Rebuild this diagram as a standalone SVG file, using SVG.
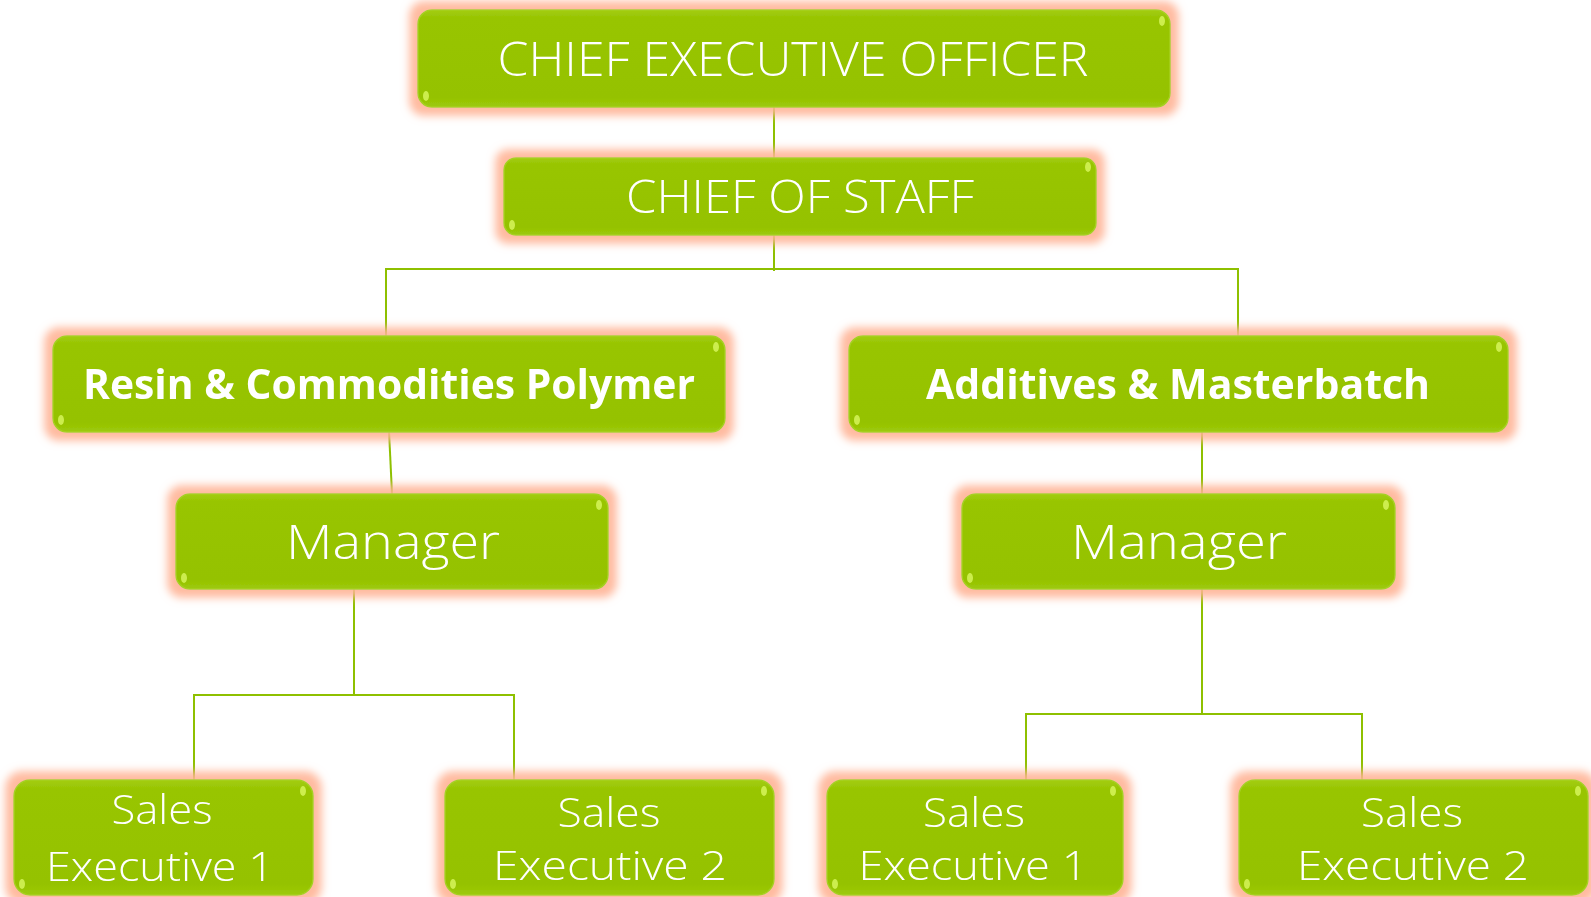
<svg xmlns="http://www.w3.org/2000/svg" width="1591" height="897" viewBox="0 0 1591 897">
<defs>
<linearGradient id="gr" x1="0" y1="0" x2="0" y2="1">
<stop offset="0" stop-color="#A3CD12"/>
<stop offset="0.08" stop-color="#98C502"/>
<stop offset="0.9" stop-color="#95C200"/>
<stop offset="1" stop-color="#9DCA0C"/>
</linearGradient>
<filter id="glow" x="-10%" y="-30%" width="120%" height="160%">
<feMorphology in="SourceAlpha" operator="dilate" radius="8" result="d"/>
<feGaussianBlur in="d" stdDeviation="4" result="b"/>
<feFlood flood-color="#FFB395" flood-opacity="0.9"/>
<feComposite in2="b" operator="in" result="g"/>
<feMerge><feMergeNode in="g"/><feMergeNode in="SourceGraphic"/></feMerge>
</filter>
</defs>
<style>
.box{fill:url(#gr);stroke:#A6D020;stroke-width:1.5;}
.hl{fill:#D6F55A;opacity:0.85;}
.t{fill:#FFFFFF;font-family:"Open Sans","DejaVu Sans",sans-serif;font-weight:300;text-anchor:middle;}
.b{fill:#FFFFFF;font-family:"Open Sans","DejaVu Sans",sans-serif;font-weight:700;text-anchor:middle;}
.c{fill:none;stroke:#8EC000;stroke-width:2;}
</style>
<rect width="1591" height="897" fill="#FFFFFF"/>
<g id="connectors">
<line class="c" x1="774" y1="107" x2="774" y2="158"/>
<line class="c" x1="774" y1="235" x2="774" y2="271"/>
<polyline class="c" points="386,336 386,269 1238,269 1238,336"/>
<line class="c" x1="389" y1="431" x2="392" y2="494"/>
<line class="c" x1="1202" y1="431" x2="1202" y2="494"/>
<polyline class="c" points="354,589 354,695"/>
<polyline class="c" points="194,790 194,695 514,695 514,790"/>
<polyline class="c" points="1202,589 1202,714"/>
<polyline class="c" points="1026,790 1026,714 1362,714 1362,790"/>
</g>
<g id="ceo" filter="url(#glow)">
<rect class="box" x="418" y="10" width="752" height="97" rx="14"/>
<ellipse class="hl" cx="1162" cy="21" rx="3" ry="5"/>
<ellipse class="hl" cx="426" cy="96" rx="3" ry="5"/>
<text class="t" x="793" y="76" font-size="47" textLength="591" lengthAdjust="spacingAndGlyphs">CHIEF EXECUTIVE OFFICER</text>
</g>
<g id="cos" filter="url(#glow)">
<rect class="box" x="504" y="158" width="592" height="77" rx="12"/>
<ellipse class="hl" cx="1088" cy="167" rx="3" ry="5"/>
<ellipse class="hl" cx="512" cy="225" rx="3" ry="5"/>
<text class="t" x="800" y="213" font-size="46" textLength="348" lengthAdjust="spacingAndGlyphs">CHIEF OF STAFF</text>
</g>
<g id="resin" filter="url(#glow)">
<rect class="box" x="53" y="336" width="672" height="96" rx="14"/>
<ellipse class="hl" cx="716" cy="347" rx="3" ry="5"/>
<ellipse class="hl" cx="61" cy="420" rx="3" ry="5"/>
<text class="b" x="389" y="399" font-size="42" textLength="612" lengthAdjust="spacingAndGlyphs">Resin &amp; Commodities Polymer</text>
</g>
<g id="additives" filter="url(#glow)">
<rect class="box" x="849" y="336" width="659" height="96" rx="14"/>
<ellipse class="hl" cx="1499" cy="347" rx="3" ry="5"/>
<ellipse class="hl" cx="857" cy="420" rx="3" ry="5"/>
<text class="b" x="1178" y="399" font-size="42" textLength="504" lengthAdjust="spacingAndGlyphs">Additives &amp; Masterbatch</text>
</g>
<g id="manager-left" filter="url(#glow)">
<rect class="box" x="176" y="494" width="432" height="95" rx="14"/>
<ellipse class="hl" cx="599" cy="505" rx="3" ry="5"/>
<ellipse class="hl" cx="184" cy="578" rx="3" ry="5"/>
<text class="t" x="393" y="559" font-size="47" textLength="214" lengthAdjust="spacingAndGlyphs">Manager</text>
</g>
<g id="manager-right" filter="url(#glow)">
<rect class="box" x="962" y="494" width="433" height="95" rx="14"/>
<ellipse class="hl" cx="1386" cy="505" rx="3" ry="5"/>
<ellipse class="hl" cx="970" cy="578" rx="3" ry="5"/>
<text class="t" x="1179" y="559" font-size="47" textLength="216" lengthAdjust="spacingAndGlyphs">Manager</text>
</g>
<g id="se1-left" filter="url(#glow)">
<rect class="box" x="14" y="780" width="299" height="115" rx="16"/>
<ellipse class="hl" cx="303" cy="791" rx="3" ry="5"/>
<ellipse class="hl" cx="22" cy="884" rx="3" ry="5"/>
<text class="t" x="162" y="824" font-size="41" textLength="101" lengthAdjust="spacingAndGlyphs">Sales</text>
<text class="t" x="160" y="881" font-size="41" textLength="228" lengthAdjust="spacingAndGlyphs">Executive 1</text>
</g>
<g id="se2-left" filter="url(#glow)">
<rect class="box" x="445" y="780" width="329" height="115" rx="16"/>
<ellipse class="hl" cx="764" cy="791" rx="3" ry="5"/>
<ellipse class="hl" cx="453" cy="884" rx="3" ry="5"/>
<text class="t" x="609" y="827" font-size="41" textLength="103" lengthAdjust="spacingAndGlyphs">Sales</text>
<text class="t" x="610" y="880" font-size="41" textLength="234" lengthAdjust="spacingAndGlyphs">Executive 2</text>
</g>
<g id="se1-right" filter="url(#glow)">
<rect class="box" x="827" y="780" width="296" height="115" rx="16"/>
<ellipse class="hl" cx="1113" cy="791" rx="3" ry="5"/>
<ellipse class="hl" cx="835" cy="884" rx="3" ry="5"/>
<text class="t" x="974" y="827" font-size="41" textLength="102" lengthAdjust="spacingAndGlyphs">Sales</text>
<text class="t" x="973" y="880" font-size="41" textLength="229" lengthAdjust="spacingAndGlyphs">Executive 1</text>
</g>
<g id="se2-right" filter="url(#glow)">
<rect class="box" x="1239" y="780" width="349" height="115" rx="16"/>
<ellipse class="hl" cx="1578" cy="791" rx="3" ry="5"/>
<ellipse class="hl" cx="1247" cy="884" rx="3" ry="5"/>
<text class="t" x="1412" y="827" font-size="41" textLength="102" lengthAdjust="spacingAndGlyphs">Sales</text>
<text class="t" x="1413" y="880" font-size="41" textLength="232" lengthAdjust="spacingAndGlyphs">Executive 2</text>
</g>
</svg>
